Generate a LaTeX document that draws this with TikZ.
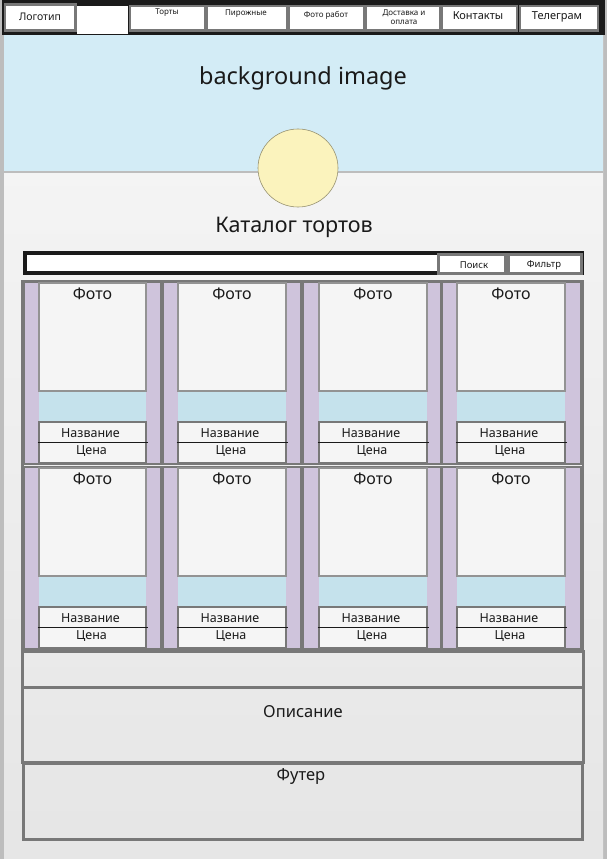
\documentclass[tikz,border=0pt]{standalone}
\usepackage{fontspec}
\setmainfont{Noto Sans}
\definecolor{frame}{HTML}{787878}
\definecolor{sky}{HTML}{D3ECF6}
\definecolor{sun}{HTML}{FBF3BD}
\definecolor{lilac}{HTML}{CFC4DC}
\definecolor{strip}{HTML}{C5E2EC}
\definecolor{paper}{HTML}{F5F5F5}
\definecolor{edge}{HTML}{BDBDBD}
\definecolor{ink}{HTML}{1A1A1A}
\tikzset{
  navbox/.style={draw=frame, line width=2.5pt, fill=white},
  navtxt/.style={inner sep=0pt, text=ink, align=center},
  photobox/.style={draw=frame!80, line width=1.2pt, fill=paper},
  namebox/.style={draw=frame, line width=1.5pt, fill=paper},
  cardedge/.style={draw=frame, line width=1.2pt},
  section/.style={draw=frame, line width=3pt},
  txt/.style={inner sep=0pt, text=ink},
}
\begin{document}
\begin{tikzpicture}[x=1pt,y=-1pt]
\useasboundingbox (0,0) rectangle (607,859);
% page and side rails
\fill[edge] (0,0) rectangle (607,859);
\shade[top color=white!97!black, bottom color=white!90!black] (4,0) rectangle (603,859);
% hero banner
\fill[sky] (4,35) rectangle (603,172);
\draw[edge, line width=1.2pt] (4,172) -- (603,172);
\node[txt, font=\fontsize{23.5}{27}\selectfont] (bg) at (303,78) {background image};
% logo circle
\draw[sun!60!black, line width=0.6pt, fill=sun] (298,168) ellipse (40 and 39);
\node[txt, font=\fontsize{21.5}{25}\selectfont] (cat) at (294,227.5) {Каталог тортов};

% navigation bar
\fill[ink] (2,0) rectangle (605,35);
\draw[navbox] (5,4.5) rectangle (75.5,30.5);
\fill[white] (77,6) rectangle (128,34);
\foreach \a/\b in {130/205, 207/287, 289/364, 366/440, 442/517, 520/598}
  \draw[navbox] (\a,6) rectangle (\b,30.5);
\node[navtxt, font=\fontsize{10.5}{12}\selectfont] (logo) at (40,16.5) {Логотип};
\node[navtxt, font=\fontsize{8}{9}\selectfont] (n1) at (167,13) {Торты};
\node[navtxt, font=\fontsize{8}{9}\selectfont] (n2) at (246,13.5) {Пирожные};
\node[navtxt, font=\fontsize{8}{9}\selectfont] (n3) at (326,15) {Фото работ};
\node[navtxt, font=\fontsize{8}{9.5}\selectfont] (n4) at (404,17) {Доставка и\\оплата};
\node[navtxt, font=\fontsize{11}{12}\selectfont] (n5) at (478,15.5) {Контакты};
\node[navtxt, font=\fontsize{11}{12}\selectfont] (n6) at (557,16.5) {Телеграм};

% search line
\draw[ink, line width=4pt, fill=white] (25,253) rectangle (582,273);
\draw[navbox, line width=3pt] (438,254.5) rectangle (505,273);
\draw[navbox, line width=3pt] (508,254.5) rectangle (581,273);
\node[txt, font=\fontsize{9.5}{11}\selectfont] (find) at (474,265) {Поиск};
\node[txt, font=\fontsize{9.5}{11}\selectfont] (filt) at (544,265) {Фильтр};

% product cards, two rows of four
\foreach \dy/\r in {0/1, 185/2} {
  \foreach \pl/\fl/\fr/\pr/\n in {25/39/146/160/1, 164/178/286/300/2, 304/319/427/440/3, 443/457/565/580/4} {
    \fill[lilac] (\pl,283+\dy) rectangle (\pr,463+\dy);
    \draw[cardedge] (\pl-1,282+\dy) rectangle (\pr+1,464+\dy);
    \draw[photobox] (\fl,283+\dy) rectangle (\fr,391+\dy);
    \fill[strip] (\fl,391.6+\dy) rectangle (\fr,422+\dy);
    \draw[namebox] (\fl,422+\dy) rectangle (\fr,463+\dy);
    \draw[ink, line width=0.9pt] (\fl-1.5,442+\dy) -- (\fr+2,442+\dy);
    \node[txt, font=\fontsize{16}{18}\selectfont] (photo\r\n) at ({(\fl+\fr)/2},293.5+\dy) {Фото};
    \node[txt, font=\fontsize{12.5}{14}\selectfont] (name\r\n) at ({(\fl+\fr)/2-2},433+\dy) {Название};
    \node[txt, font=\fontsize{12.5}{14}\selectfont] (price\r\n) at ({(\fl+\fr)/2-1},451.5+\dy) {Цена};
  }
}
\draw[frame, line width=2.5pt] (22.5,281) rectangle (583,651);

% lower sections
\draw[section] (22.5,651) rectangle (583,687);
\draw[section] (22.5,687) rectangle (583,762);
\draw[section] (23.5,763) rectangle (582,839);
\node[txt, font=\fontsize{16.5}{18}\selectfont] (about) at (303,712) {Описание};
\node[txt, font=\fontsize{16.5}{18}\selectfont] (foot) at (301,776) {Футер};
\end{tikzpicture}
\end{document}
